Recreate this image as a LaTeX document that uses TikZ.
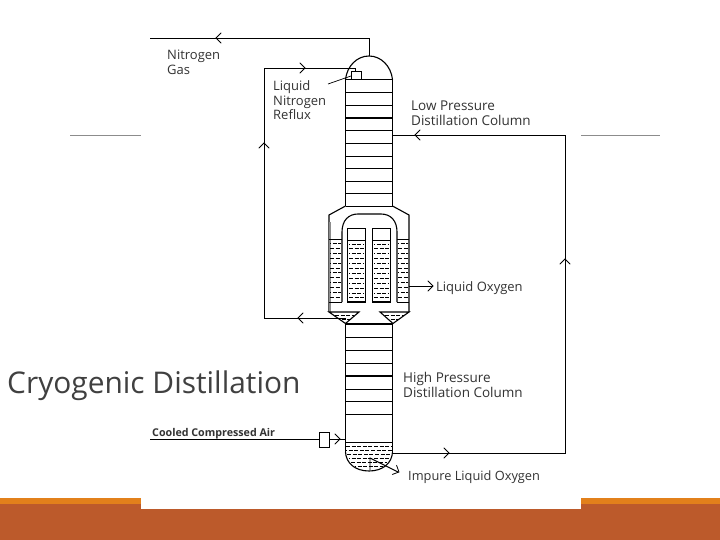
\documentclass[tikz,border=0pt]{standalone}
\usepackage{fontspec}
\setmainfont{Open Sans}
\usetikzlibrary{arrows.meta}
\definecolor{brownbar}{HTML}{BC5A2B}
\definecolor{orangebar}{HTML}{E2801B}
\definecolor{titlegray}{HTML}{404040}
\definecolor{labelgray}{HTML}{333333}
\tikzset{
  pipe/.style={draw=black,line width=0.9pt},
  wall/.style={draw=black,line width=1.1pt},
  heavy/.style={draw=black,line width=1.8pt},
  tray/.style={draw=black,line width=0.9pt},
  lbl/.style={text=labelgray,font=\fontsize{13}{14.7}\selectfont,align=left,anchor=north west,inner sep=0pt},
  lblwide/.style={lbl,font=\fontsize{13.5}{14.7}\selectfont},
  rule/.style={draw=black!45,line width=0.6pt},
  liq/.style={draw=black,line width=1pt,dash pattern=on 4pt off 1.6pt},
  liqb/.style={draw=black,line width=1pt,dash pattern=on 4pt off 1.6pt,dash phase=3pt},
  tip/.style={draw=black,line width=0.8pt,line cap=round}
}
\newcommand{\opentip}[2]{% position, rotation (0 = pointing right)
  \draw[tip,shift={#1},rotate=#2] (-5,-5) -- (0,0) -- (-5,5);}
\newcommand{\liqrows}[4]{% x1,x2,y1,y2
  \pgfmathsetmacro{\ystep}{4.9}%
  \foreach \k in {0,...,13}{%
    \pgfmathsetmacro{\yy}{#3+\k*\ystep}%
    \ifdim \yy pt<#4pt
      \ifodd\k \draw[liq] (#1,\yy) -- (#2,\yy);
      \else \draw[liqb] (#1,\yy) -- (#2,\yy);\fi
    \fi}}
\begin{document}
\begin{tikzpicture}[x=1pt,y=-1pt]
\useasboundingbox (0,0) rectangle (720,540);
% slide
\fill[white] (0,0) rectangle (720,540);
\fill[orangebar] (0,498) rectangle (720,505);
\fill[brownbar] (0,504) rectangle (720,540);
\fill[white] (141,0) rectangle (581,509);
\coordinate (ruleLa) at (70,135.5); \coordinate (ruleLb) at (141,135.5);
\coordinate (ruleRa) at (581,135.5); \coordinate (ruleRb) at (660,135.5);
\draw[rule] (ruleLa) -- (ruleLb);
\draw[rule] (ruleRa) -- (ruleRb);
\node[anchor=base west,inner sep=0pt,text=titlegray,font=\fontsize{29.9}{31}\selectfont] (title) at (7,393) {Cryogenic Distillation};
% upper column
\coordinate (topL) at (345.5,79.5); \coordinate (topR) at (392.5,79.5);
\coordinate (neckL) at (345.5,206); \coordinate (neckR) at (392.5,206);
\draw[wall] (topL) -- (neckL);
\draw[heavy] (topR) -- (neckR);
\draw[wall] (topL) .. controls (347,66) and (357,56) .. (369,56) .. controls (381,56) and (391,66) .. (topR);
\foreach \y in {79.5,92.5,105,130,143,156,168,181,193,206}{\draw[tray] (345.5,\y) -- (392.5,\y);}
\draw[heavy] (345.5,118) -- (392.5,118);
% condenser/reboiler
\draw[wall] (neckL) -- (329,215) -- (329,312);
\draw[wall] (neckR) -- (409,215) -- (409,312);
\draw[draw=black!45,line width=2pt] (329.5,222) -- (329.5,312);
\draw[wall] (342,302) -- (342,232) .. controls (342,220) and (349,214) .. (358,214) -- (381,214) .. controls (391,214) and (397,221) .. (397,232) -- (397,302);
% liquid side compartments
\draw[tray] (329,239.5) -- (342,239.5);
\draw[tray] (397,239.5) -- (409,239.5);
\draw[tray] (329,302) -- (342,302);
\draw[tray] (397,302) -- (409,302);
\liqrows{330}{341}{243.5}{302}
\liqrows{398}{408}{243.5}{302}
% tubes
\draw[wall] (347.5,302) rectangle (365.5,228.5);
\draw[wall] (372.5,302) rectangle (390.5,228.5);
\draw[tray] (347.5,240) -- (365.5,240);
\draw[tray] (372.5,240) -- (390.5,240);
\liqrows{349}{364}{244}{302}
\liqrows{374}{389}{244}{302}
% funnels
\draw[wall] (329,312) -- (359,312) -- (345.5,323.5) -- cycle;
\draw[wall] (380,312) -- (409,312) -- (393,323.5) -- cycle;
\draw[liq] (335,315.5) -- (354,315.5);
\draw[liqb] (339,319) -- (350,319);
\draw[liq] (385,315.5) -- (404,315.5);
\draw[liqb] (388,319) -- (398,319);
% lower column
\coordinate (lowL) at (345.5,452); \coordinate (lowR) at (392.5,452);
\draw[wall] (345.5,323.5) -- (lowL);
\draw[heavy] (392.5,323.5) -- (lowR);
\draw[wall] (lowL) .. controls (346,463) and (355,471) .. (369,471) .. controls (383,471) and (392,463) .. (lowR);
\draw[heavy] (345.5,324) -- (392.5,324);
\foreach \y in {337,350,363,389,401,414,442}{\draw[tray] (345.5,\y) -- (392.5,\y);}
\draw[heavy] (345.5,376) -- (392.5,376);
\draw[liq] (346,446) -- (392,446);
\draw[liqb] (346,450) -- (392,450);
\draw[liq] (347,454) -- (391,454);
\draw[liqb] (349,458) -- (389,458);
\draw[liq] (351,462) -- (387,462);
\draw[liqb] (355,466) -- (383,466);
% nitrogen gas
\coordinate (domeTop) at (369,56);
\coordinate (gasEnd) at (150,38);
\draw[pipe] (domeTop) -- (369,38) -- (gasEnd);
\opentip{(216,38)}{180}
% reflux
\coordinate (condOut) at (345.5,318);
\node[draw=black,line width=0.9pt,fill=white,inner sep=0pt,minimum width=9.5pt,minimum height=8pt] (refluxBox) at (356.5,75.5) {};
\draw[pipe] (condOut) -- (264,318) -- (264,68) -- (355,68) -- (355,71.5);
\opentip{(298,318)}{180}
\opentip{(264,143)}{90}
\opentip{(305,68)}{0}
\coordinate (leaderA) at (328,84); \coordinate (leaderB) at (351,76);
\draw[draw=black,line width=0.7pt] (leaderA) -- (leaderB);
% low pressure feed
\coordinate (feedIn) at (392.5,135);
\coordinate (feedOut) at (392.5,453);
\draw[pipe] (feedOut) -- (565,453) -- (565,135) -- (feedIn);
\opentip{(415,135)}{180}
\opentip{(565,259)}{90}
\opentip{(449,453)}{0}
% liquid oxygen
\coordinate (loxA) at (409,286); \coordinate (loxB) at (432,286);
\draw[pipe] (loxA) -- (loxB);
\opentip{(433,286)}{0}
% air
\coordinate (airA) at (150,439); \coordinate (airB) at (345.5,439);
\draw[pipe] (airA) -- (airB);
\node[draw=black,line width=0.8pt,fill=white,inner sep=0pt,minimum width=10pt,minimum height=15pt] (airBox) at (324,439.5) {};
\opentip{(340,439)}{0}
% impure
\coordinate (impA) at (370,458); \coordinate (impB) at (398,472); \coordinate (impC) at (370,470);
\draw[pipe] (impC) -- (impA) -- (impB);
\opentip{(399,472)}{-25}
% labels
\node[lbl] (lgas) at (167,50) {Nitrogen\\Gas};
\node[lbl] (lreflux) at (273,80.5) {Liquid\\Nitrogen\\Reflux};
\node[lblwide] (llow) at (411,101) {Low Pressure\\Distillation Column};
\node[lbl,anchor=west] (llox) at (436,288) {Liquid Oxygen};
\node[lblwide] (lhigh) at (403,372) {High Pressure\\Distillation Column};
\node[lbl,anchor=west,font=\fontsize{12.8}{14.7}\selectfont] (limp) at (408,477) {Impure Liquid Oxygen};
\node[anchor=west,inner sep=0pt,font=\fontsize{10.7}{12}\bfseries\selectfont,text=labelgray] (lair) at (152,433.5) {Cooled Compressed Air};
\end{tikzpicture}
\end{document}
